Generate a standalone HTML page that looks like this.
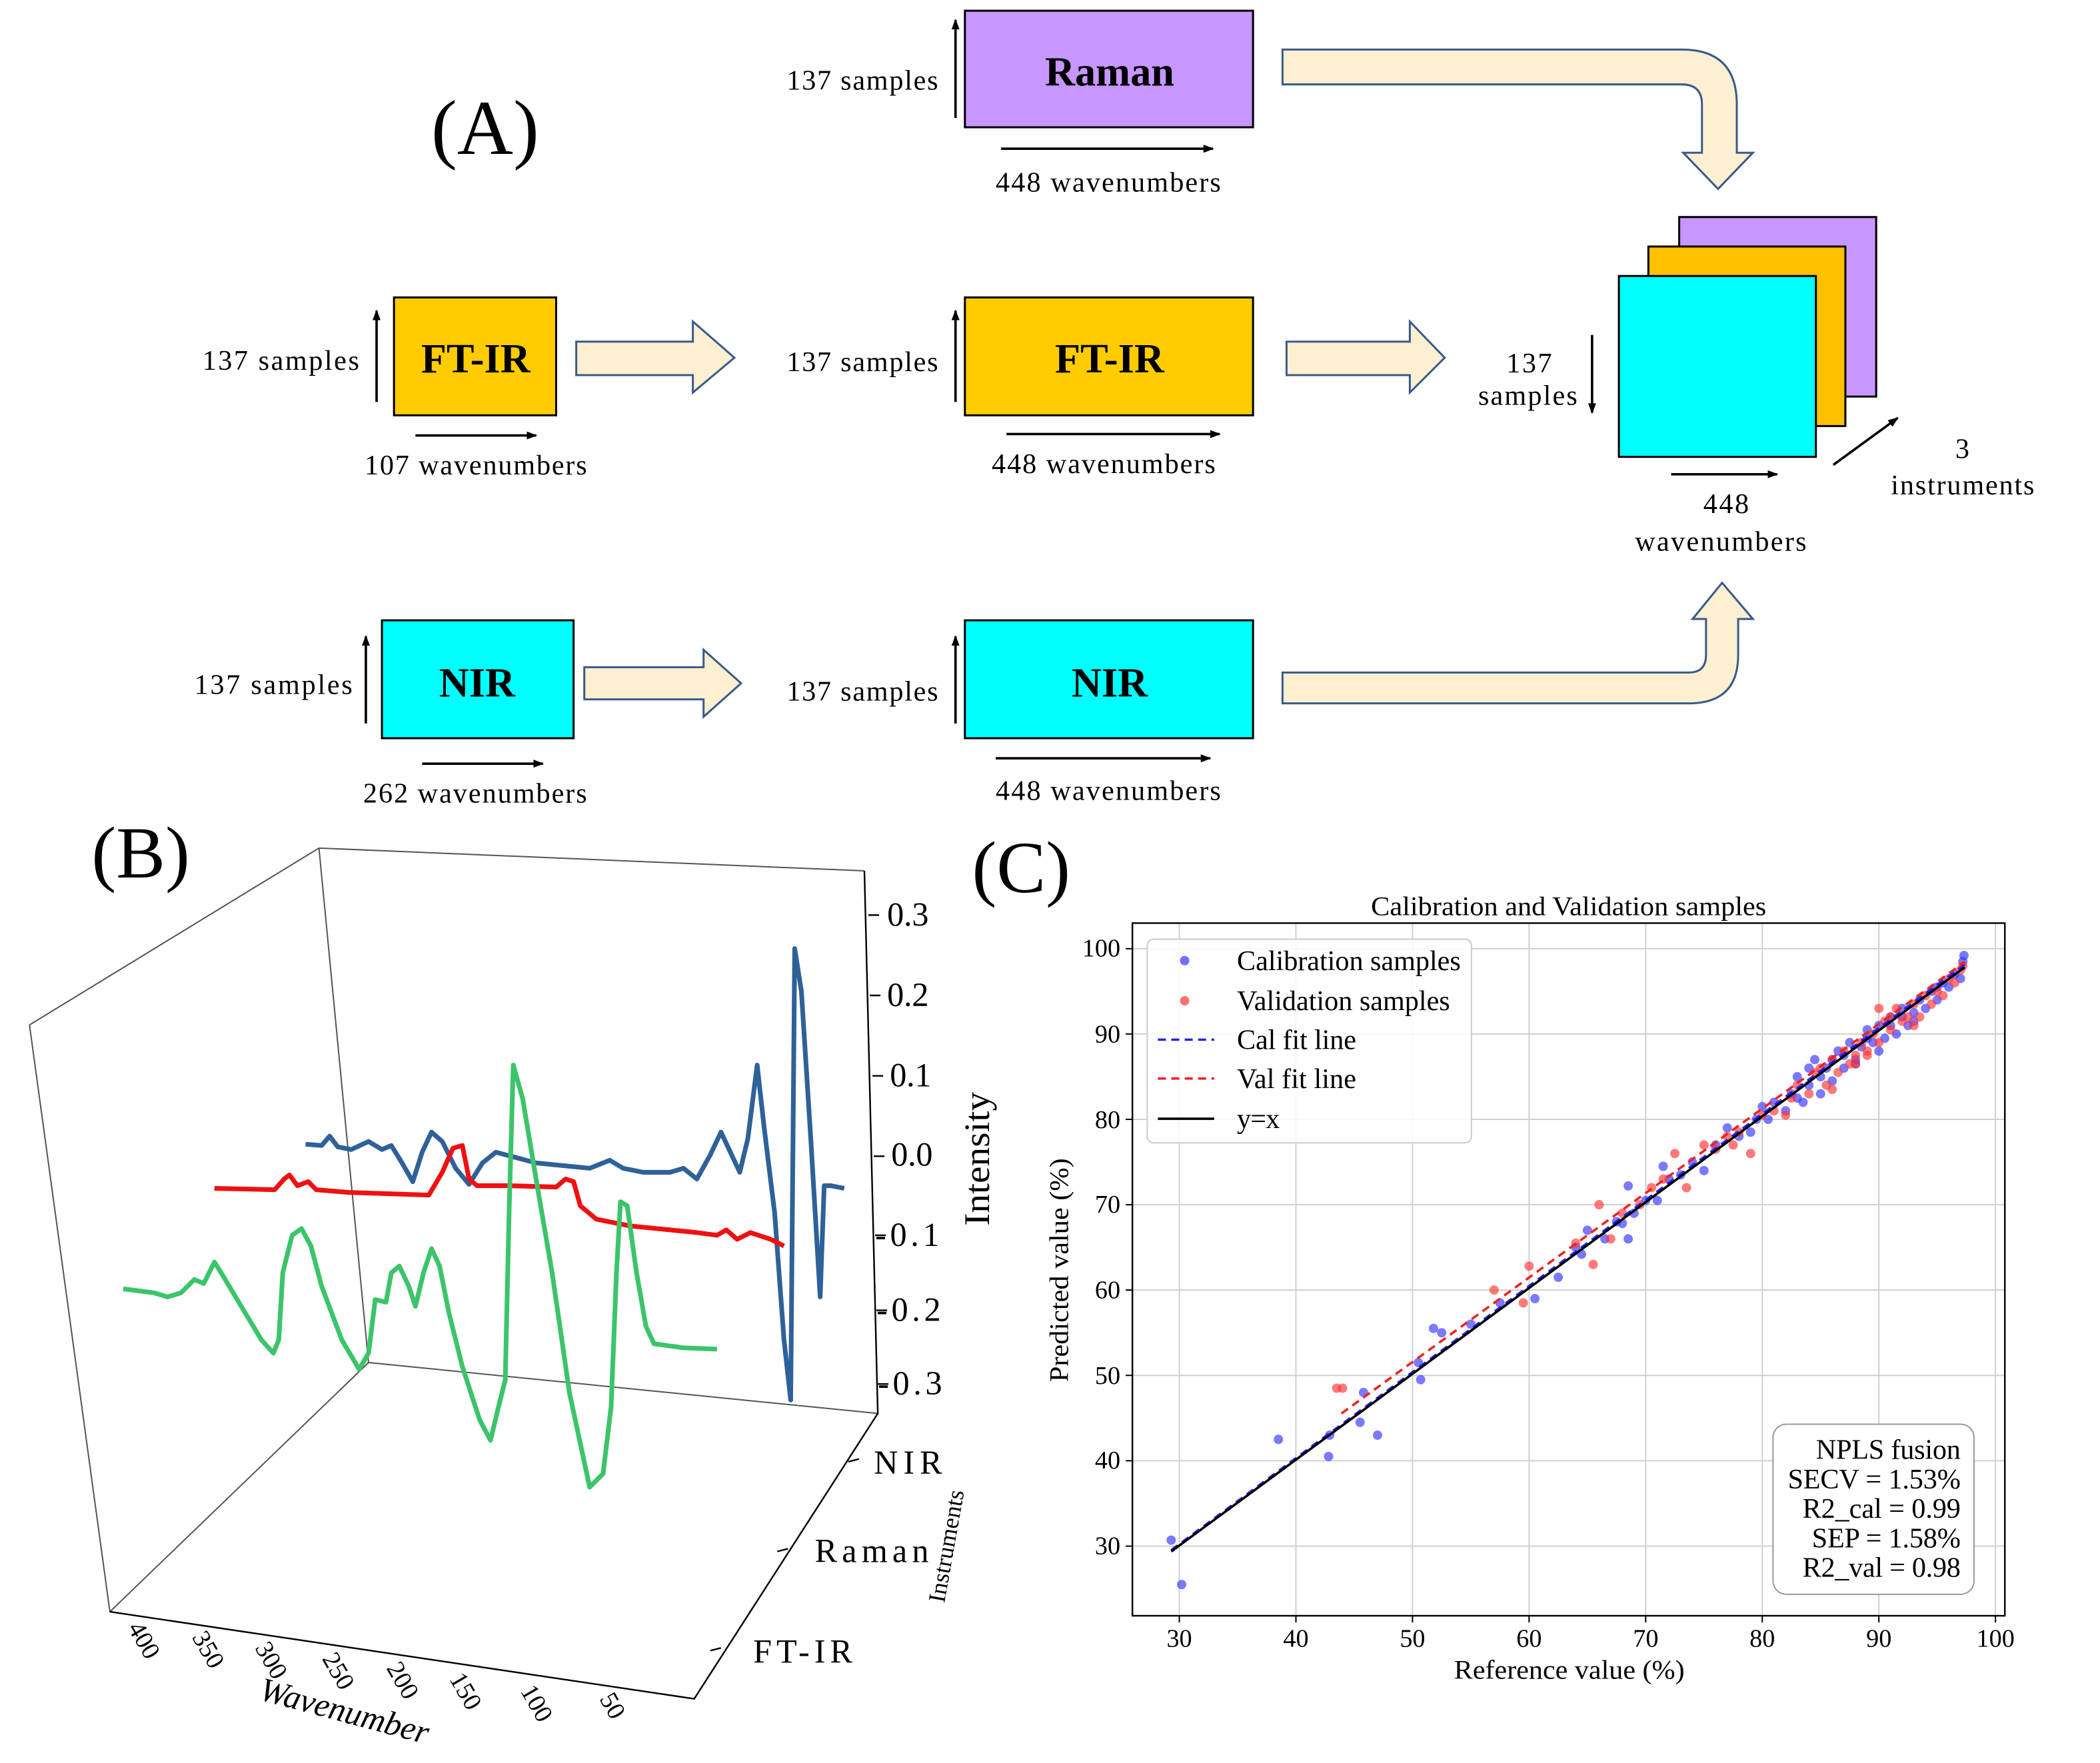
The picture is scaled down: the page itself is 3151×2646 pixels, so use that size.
<!DOCTYPE html>
<html><head><meta charset="utf-8"><style>
html,body{margin:0;padding:0;background:#fff;}
svg{display:block;}
text{font-family:"Liberation Serif",serif;fill:#000;}
</style></head><body>
<svg width="3151" height="2646" viewBox="0 0 1567 1315.9" preserveAspectRatio="none" xmlns="http://www.w3.org/2000/svg">
<defs><marker id="ah" markerWidth="8" markerHeight="8" refX="7" refY="4" orient="auto" markerUnits="userSpaceOnUse"><path d="M0,1 L8,4 L0,7 Z" fill="#000"/></marker></defs>
<rect width="1567" height="1315.9" fill="#fff"/>
<!-- Panel A -->
<text x="362" y="115" font-size="58" text-anchor="middle">(A)</text>
<g stroke="#000" stroke-width="1.5">
<rect x="720" y="8" width="215" height="87" fill="#c896ff"/>
<rect x="294" y="222" width="121" height="88" fill="#ffcc00"/>
<rect x="720" y="222" width="215" height="88" fill="#ffcc00"/>
<rect x="285" y="463" width="143" height="88" fill="#00ffff"/>
<rect x="720" y="463" width="215" height="88" fill="#00ffff"/>
<rect x="1253" y="162" width="147" height="134" fill="#c896ff"/>
<rect x="1230" y="184" width="147" height="134" fill="#ffc000"/>
<rect x="1208" y="206" width="147" height="135" fill="#00ffff"/>
</g>
<g font-weight="bold" font-size="31" text-anchor="middle">
<text x="828" y="64">Raman</text><text x="355" y="278">FT-IR</text><text x="828" y="278">FT-IR</text>
<text x="356" y="520">NIR</text><text x="828" y="520">NIR</text></g>
<g font-size="21" lengthAdjust="spacingAndGlyphs">
<text x="587" y="67" textLength="113">137 samples</text><text x="743" y="143" textLength="168">448 wavenumbers</text>
<text x="151" y="276" textLength="117">137  samples</text><text x="272" y="354" textLength="166">107 wavenumbers</text>
<text x="587" y="277" textLength="113">137 samples</text><text x="740" y="353" textLength="167">448 wavenumbers</text>
<text x="145" y="518" textLength="118">137  samples</text><text x="271" y="599" textLength="167">262 wavenumbers</text>
<text x="587" y="523" textLength="113">137 samples</text><text x="743" y="597" textLength="168">448 wavenumbers</text>
<text x="1124" y="278" textLength="34">137</text><text x="1103" y="302" textLength="74">samples</text>
<text x="1271" y="383" textLength="34">448</text><text x="1220" y="411" textLength="128">wavenumbers</text>
<text x="1459" y="342">3</text><text x="1411" y="369" textLength="107">instruments</text></g>
<g stroke="#000" stroke-width="1.8" marker-end="url(#ah)">
<line x1="713" y1="88" x2="713" y2="15"/><line x1="747" y1="111" x2="905" y2="111"/>
<line x1="281" y1="300" x2="281" y2="232"/><line x1="310" y1="325" x2="400" y2="325"/>
<line x1="713" y1="300" x2="713" y2="232"/><line x1="751" y1="324" x2="910" y2="324"/>
<line x1="273" y1="540" x2="273" y2="475"/><line x1="315" y1="570" x2="405" y2="570"/>
<line x1="713" y1="540" x2="713" y2="475"/><line x1="743" y1="566" x2="903" y2="566"/>
<line x1="1188" y1="250" x2="1188" y2="308"/><line x1="1247" y1="354" x2="1326" y2="354"/>
<line x1="1368" y1="347" x2="1416" y2="312"/></g>
<g fill="#fdf0d0" stroke="#3a5a8a" stroke-width="1.5">
<path d="M430,255 H517 V240 L548,267 L517,293 V280 H430 Z"/>
<path d="M960,255 H1052 V240 L1078,267 L1052,293 V280 H960 Z"/>
<path d="M436,498 H525 V485 L553,510 L525,535 V522 H436 Z"/>
<path d="M957,37 H1255 Q1296,37 1296,78 V114 H1308 L1282,141 L1256,114 H1270 V78 Q1270,63 1255,63 H957 Z"/>
<path d="M957,502 H1260 Q1273,502 1273,489 V462 H1263 L1285,435 L1308,462 H1297 V489 Q1297,525 1260,525 H957 Z"/>
</g>
<!-- Panel B -->
<text x="105" y="655" font-size="55" text-anchor="middle">(B)</text>
<g stroke="#555" stroke-width="1" fill="none">
<path d="M22,765 L238,633 L645,650 M238,633 L275,1017 M22,765 L82,1203 L518,1268 L655,1055 L275,1017 L82,1203"/>
</g>
<g stroke="#000" stroke-width="1.2" fill="none">
<path d="M645,650 L655,1055 M82,1203 L518,1268 L655,1055"/>
<path d="M648,683 h8 M649,743 h8 M651,803 h8 M652,863 h8 M653,922 h8 M654,978 h8 M655,1033 h8"/>
<path d="M633,1091 l8,-2 M580,1158 l8,-2 M530,1232 l8,-2"/>
</g>
<g font-size="25" lengthAdjust="spacingAndGlyphs">
<text x="662" y="691" textLength="31">0.3</text><text x="662" y="751" textLength="31">0.2</text><text x="664" y="811" textLength="31">0.1</text><text x="665" y="870" textLength="31">0.0</text>
<text x="653" y="930" textLength="48">-0.1</text><text x="654" y="986" textLength="48">-0.2</text><text x="655" y="1041" textLength="48">-0.3</text>
<text x="652" y="1100" textLength="51">NIR</text><text x="608" y="1166" textLength="85">Raman</text><text x="562" y="1241" textLength="74">FT-IR</text></g>
<text transform="translate(738,865) rotate(-90)" font-size="27" text-anchor="middle" textLength="100" lengthAdjust="spacingAndGlyphs">Intensity</text>
<text transform="translate(712,1155) rotate(-80)" font-size="18" text-anchor="middle">Instruments</text>
<g font-size="19">
<text transform="translate(95,1215) rotate(60)">400</text><text transform="translate(143,1222) rotate(60)">350</text>
<text transform="translate(190,1230) rotate(60)">300</text><text transform="translate(240,1238) rotate(60)">250</text>
<text transform="translate(288,1245) rotate(60)">200</text><text transform="translate(335,1253) rotate(60)">150</text>
<text transform="translate(388,1262) rotate(60)">100</text><text transform="translate(447,1268) rotate(60)">50</text></g>
<text transform="translate(255,1285) rotate(15)" font-size="25" text-anchor="middle" font-style="italic">Wavenumber</text>
<g fill="none" stroke-width="3.5" stroke-linejoin="round">
<polyline stroke="#2f6199" points="228,854 240,855 246,848 252,856 262,858 275,852 285,858 292,855 300,868 308,882 315,860 322,845 330,852 340,872 350,884 360,868 370,860 385,864 400,868 420,870 440,872 455,866 465,872 480,875 500,875 510,872 520,880 530,862 538,845 545,860 552,875 558,850 565,795 570,840 578,905 585,1000 590,1045 593,708 598,740 605,850 612,968 615,885 620,885 630,887"/>
<polyline stroke="#ee1111" points="160,887 205,888 212,880 216,877 222,885 230,882 236,888 260,890 320,892 330,875 338,857 345,855 350,880 356,885 380,885 415,886 422,880 428,882 433,900 445,910 470,915 500,918 520,920 535,922 542,918 550,925 560,920 575,925 585,930"/>
<polyline stroke="#3cc46a" points="92,962 115,965 125,968 135,965 145,955 152,958 160,942 165,950 180,975 195,1000 204,1010 208,1000 211,950 218,922 225,917 232,930 240,960 255,1000 268,1022 275,1010 280,970 288,972 292,950 298,945 305,960 310,975 316,950 322,932 328,945 335,980 345,1020 358,1060 366,1075 372,1050 377,1030 380,900 383,795 390,820 400,880 412,950 425,1040 440,1110 450,1100 456,1050 460,950 463,897 468,900 475,950 482,990 488,1003 510,1006 535,1007"/>
</g>
<!-- Panel C -->
<text x="762" y="666" font-size="55" text-anchor="middle">(C)</text>
<text x="1023" y="683" font-size="20" textLength="295" lengthAdjust="spacingAndGlyphs">Calibration and Validation samples</text>
<g stroke="#d0d0d0" stroke-width="1">
<path d="M880,689V1206 M967,689V1206 M1054,689V1206 M1141,689V1206 M1228,689V1206 M1315,689V1206 M1402,689V1206 M1489,689V1206"/>
<path d="M845,1154H1496 M845,1090.3H1496 M845,1026.6H1496 M845,962.9H1496 M845,899.2H1496 M845,835.5H1496 M845,771.8H1496 M845,708.1H1496"/>
</g>
<rect x="845" y="689" width="651" height="517" fill="none" stroke="#000" stroke-width="1.2"/>
<g stroke="#000" stroke-width="1">
<path d="M880,1206v5 M967,1206v5 M1054,1206v5 M1141,1206v5 M1228,1206v5 M1315,1206v5 M1402,1206v5 M1489,1206v5"/>
<path d="M840,1154h5 M840,1090.3h5 M840,1026.6h5 M840,962.9h5 M840,899.2h5 M840,835.5h5 M840,771.8h5 M840,708.1h5"/>
</g>
<g font-size="19" text-anchor="middle">
<text x="880" y="1229">30</text><text x="967" y="1229">40</text><text x="1054" y="1229">50</text><text x="1141" y="1229">60</text>
<text x="1228" y="1229">70</text><text x="1315" y="1229">80</text><text x="1402" y="1229">90</text><text x="1489" y="1229">100</text></g>
<g font-size="19" text-anchor="end">
<text x="836" y="1160">30</text><text x="836" y="1096">40</text><text x="836" y="1033">50</text><text x="836" y="969">60</text>
<text x="836" y="905">70</text><text x="836" y="842">80</text><text x="836" y="778">90</text><text x="836" y="714">100</text></g>
<g transform="matrix(8.7,0,0,-6.37,619,1345.1)">
<g fill="#3333ff" fill-opacity="0.65">
<ellipse cx="29.3" cy="30.7" rx="0.4" ry="0.55"/><ellipse cx="30.2" cy="25.5" rx="0.4" ry="0.55"/><ellipse cx="38.5" cy="42.5" rx="0.4" ry="0.55"/><ellipse cx="42.8" cy="40.5" rx="0.4" ry="0.55"/><ellipse cx="42.9" cy="43" rx="0.4" ry="0.55"/><ellipse cx="45.5" cy="44.5" rx="0.4" ry="0.55"/><ellipse cx="45.8" cy="48" rx="0.4" ry="0.55"/><ellipse cx="47" cy="43" rx="0.4" ry="0.55"/><ellipse cx="50.7" cy="49.5" rx="0.4" ry="0.55"/><ellipse cx="50.5" cy="51.5" rx="0.4" ry="0.55"/><ellipse cx="51.8" cy="55.5" rx="0.4" ry="0.55"/><ellipse cx="52.5" cy="55" rx="0.4" ry="0.55"/><ellipse cx="55" cy="56" rx="0.4" ry="0.55"/><ellipse cx="57.5" cy="58.5" rx="0.4" ry="0.55"/><ellipse cx="60.5" cy="59" rx="0.4" ry="0.55"/><ellipse cx="62.5" cy="61.5" rx="0.4" ry="0.55"/><ellipse cx="64" cy="65" rx="0.4" ry="0.55"/><ellipse cx="64.5" cy="64.2" rx="0.4" ry="0.55"/><ellipse cx="65" cy="67" rx="0.4" ry="0.55"/><ellipse cx="66.5" cy="66" rx="0.4" ry="0.55"/><ellipse cx="67.5" cy="68" rx="0.4" ry="0.55"/><ellipse cx="68" cy="67.8" rx="0.4" ry="0.55"/><ellipse cx="68.5" cy="66" rx="0.4" ry="0.55"/><ellipse cx="68.5" cy="72.2" rx="0.4" ry="0.55"/><ellipse cx="69" cy="69" rx="0.4" ry="0.55"/><ellipse cx="70" cy="70.5" rx="0.4" ry="0.55"/><ellipse cx="71" cy="70.5" rx="0.4" ry="0.55"/><ellipse cx="71.5" cy="74.5" rx="0.4" ry="0.55"/><ellipse cx="72" cy="73" rx="0.4" ry="0.55"/><ellipse cx="73" cy="73.5" rx="0.4" ry="0.55"/><ellipse cx="74" cy="75" rx="0.4" ry="0.55"/><ellipse cx="75" cy="74" rx="0.4" ry="0.55"/><ellipse cx="76" cy="77" rx="0.4" ry="0.55"/><ellipse cx="77" cy="79" rx="0.4" ry="0.55"/><ellipse cx="78" cy="78" rx="0.4" ry="0.55"/><ellipse cx="79" cy="78.5" rx="0.4" ry="0.55"/><ellipse cx="80" cy="81.5" rx="0.4" ry="0.55"/><ellipse cx="80.5" cy="80" rx="0.4" ry="0.55"/><ellipse cx="81" cy="82" rx="0.4" ry="0.55"/><ellipse cx="82" cy="81" rx="0.4" ry="0.55"/><ellipse cx="82.5" cy="83" rx="0.4" ry="0.55"/><ellipse cx="83" cy="85" rx="0.4" ry="0.55"/><ellipse cx="83.5" cy="82" rx="0.4" ry="0.55"/><ellipse cx="84" cy="84" rx="0.4" ry="0.55"/><ellipse cx="84.5" cy="87" rx="0.4" ry="0.55"/><ellipse cx="85" cy="85" rx="0.4" ry="0.55"/><ellipse cx="85.5" cy="86" rx="0.4" ry="0.55"/><ellipse cx="86" cy="84.5" rx="0.4" ry="0.55"/><ellipse cx="86.5" cy="88" rx="0.4" ry="0.55"/><ellipse cx="87" cy="86" rx="0.4" ry="0.55"/><ellipse cx="87.5" cy="89" rx="0.4" ry="0.55"/><ellipse cx="88" cy="87" rx="0.4" ry="0.55"/><ellipse cx="88.5" cy="88.5" rx="0.4" ry="0.55"/><ellipse cx="89" cy="90.5" rx="0.4" ry="0.55"/><ellipse cx="89.5" cy="89" rx="0.4" ry="0.55"/><ellipse cx="90" cy="91" rx="0.4" ry="0.55"/><ellipse cx="90.5" cy="89.5" rx="0.4" ry="0.55"/><ellipse cx="91" cy="92" rx="0.4" ry="0.55"/><ellipse cx="91.5" cy="90" rx="0.4" ry="0.55"/><ellipse cx="92" cy="93" rx="0.4" ry="0.55"/><ellipse cx="92.5" cy="91" rx="0.4" ry="0.55"/><ellipse cx="93" cy="92.5" rx="0.4" ry="0.55"/><ellipse cx="93.5" cy="94" rx="0.4" ry="0.55"/><ellipse cx="94" cy="93" rx="0.4" ry="0.55"/><ellipse cx="94.5" cy="95" rx="0.4" ry="0.55"/><ellipse cx="95" cy="94" rx="0.4" ry="0.55"/><ellipse cx="95.5" cy="96" rx="0.4" ry="0.55"/><ellipse cx="96" cy="95.5" rx="0.4" ry="0.55"/><ellipse cx="96.5" cy="97" rx="0.4" ry="0.55"/><ellipse cx="97" cy="96.5" rx="0.4" ry="0.55"/><ellipse cx="97.3" cy="99.2" rx="0.4" ry="0.55"/><ellipse cx="97.2" cy="98.5" rx="0.4" ry="0.55"/><ellipse cx="88" cy="86.5" rx="0.4" ry="0.55"/><ellipse cx="86" cy="87" rx="0.4" ry="0.55"/><ellipse cx="84" cy="86" rx="0.4" ry="0.55"/><ellipse cx="92" cy="92" rx="0.4" ry="0.55"/><ellipse cx="90" cy="88" rx="0.4" ry="0.55"/><ellipse cx="85" cy="83" rx="0.4" ry="0.55"/><ellipse cx="87" cy="87.5" rx="0.4" ry="0.55"/><ellipse cx="89" cy="89.5" rx="0.4" ry="0.55"/><ellipse cx="91" cy="91" rx="0.4" ry="0.55"/><ellipse cx="93" cy="91.5" rx="0.4" ry="0.55"/><ellipse cx="95" cy="95.5" rx="0.4" ry="0.55"/><ellipse cx="83" cy="82.5" rx="0.4" ry="0.55"/><ellipse cx="79.5" cy="80" rx="0.4" ry="0.55"/>
</g>
<g fill="#ff3333" fill-opacity="0.65">
<ellipse cx="43.5" cy="48.5" rx="0.4" ry="0.55"/><ellipse cx="44" cy="48.5" rx="0.4" ry="0.55"/><ellipse cx="57" cy="60" rx="0.4" ry="0.55"/><ellipse cx="59.5" cy="58.5" rx="0.4" ry="0.55"/><ellipse cx="60" cy="62.8" rx="0.4" ry="0.55"/><ellipse cx="64" cy="65.5" rx="0.4" ry="0.55"/><ellipse cx="65.5" cy="63" rx="0.4" ry="0.55"/><ellipse cx="66" cy="70" rx="0.4" ry="0.55"/><ellipse cx="67" cy="66" rx="0.4" ry="0.55"/><ellipse cx="68" cy="69" rx="0.4" ry="0.55"/><ellipse cx="69.5" cy="70" rx="0.4" ry="0.55"/><ellipse cx="70.5" cy="72" rx="0.4" ry="0.55"/><ellipse cx="71.5" cy="73" rx="0.4" ry="0.55"/><ellipse cx="72.5" cy="76" rx="0.4" ry="0.55"/><ellipse cx="73.5" cy="72" rx="0.4" ry="0.55"/><ellipse cx="75" cy="77" rx="0.4" ry="0.55"/><ellipse cx="76" cy="76.5" rx="0.4" ry="0.55"/><ellipse cx="77.5" cy="77" rx="0.4" ry="0.55"/><ellipse cx="78" cy="78.5" rx="0.4" ry="0.55"/><ellipse cx="79" cy="76" rx="0.4" ry="0.55"/><ellipse cx="80" cy="80.5" rx="0.4" ry="0.55"/><ellipse cx="81" cy="81" rx="0.4" ry="0.55"/><ellipse cx="82" cy="80.5" rx="0.4" ry="0.55"/><ellipse cx="82.5" cy="82.5" rx="0.4" ry="0.55"/><ellipse cx="83" cy="84" rx="0.4" ry="0.55"/><ellipse cx="84" cy="83" rx="0.4" ry="0.55"/><ellipse cx="85" cy="86" rx="0.4" ry="0.55"/><ellipse cx="85.5" cy="84" rx="0.4" ry="0.55"/><ellipse cx="86" cy="87" rx="0.4" ry="0.55"/><ellipse cx="86.5" cy="85.5" rx="0.4" ry="0.55"/><ellipse cx="87" cy="88" rx="0.4" ry="0.55"/><ellipse cx="88" cy="86.5" rx="0.4" ry="0.55"/><ellipse cx="88.5" cy="89" rx="0.4" ry="0.55"/><ellipse cx="89" cy="88" rx="0.4" ry="0.55"/><ellipse cx="89.5" cy="90" rx="0.4" ry="0.55"/><ellipse cx="90" cy="89" rx="0.4" ry="0.55"/><ellipse cx="90.5" cy="91.5" rx="0.4" ry="0.55"/><ellipse cx="91" cy="90.5" rx="0.4" ry="0.55"/><ellipse cx="91.5" cy="93" rx="0.4" ry="0.55"/><ellipse cx="92" cy="91.5" rx="0.4" ry="0.55"/><ellipse cx="92.5" cy="92" rx="0.4" ry="0.55"/><ellipse cx="93" cy="93.5" rx="0.4" ry="0.55"/><ellipse cx="93.5" cy="92" rx="0.4" ry="0.55"/><ellipse cx="94" cy="94.5" rx="0.4" ry="0.55"/><ellipse cx="94.5" cy="93.5" rx="0.4" ry="0.55"/><ellipse cx="95" cy="95" rx="0.4" ry="0.55"/><ellipse cx="95.5" cy="94.5" rx="0.4" ry="0.55"/><ellipse cx="96" cy="96.5" rx="0.4" ry="0.55"/><ellipse cx="96.5" cy="96" rx="0.4" ry="0.55"/><ellipse cx="97" cy="97.5" rx="0.4" ry="0.55"/><ellipse cx="97.2" cy="98" rx="0.4" ry="0.55"/><ellipse cx="90" cy="93" rx="0.4" ry="0.55"/><ellipse cx="88" cy="87.5" rx="0.4" ry="0.55"/><ellipse cx="84.5" cy="85.5" rx="0.4" ry="0.55"/><ellipse cx="86" cy="83.5" rx="0.4" ry="0.55"/><ellipse cx="87.5" cy="86.5" rx="0.4" ry="0.55"/><ellipse cx="89" cy="87.5" rx="0.4" ry="0.55"/><ellipse cx="91" cy="92" rx="0.4" ry="0.55"/><ellipse cx="93" cy="91" rx="0.4" ry="0.55"/><ellipse cx="77" cy="78" rx="0.4" ry="0.55"/>
</g>
</g>
<line x1="874" y1="1157" x2="1466" y2="720" stroke="#2222ee" stroke-width="1.8" stroke-dasharray="6,4"/>
<line x1="1001" y1="1055" x2="1466" y2="718" stroke="#ee2222" stroke-width="1.8" stroke-dasharray="6,4"/>
<line x1="874" y1="1158" x2="1466" y2="722" stroke="#000" stroke-width="1.8"/>
<rect x="856" y="701" width="242" height="152" rx="5" fill="#fff" fill-opacity="0.85" stroke="#ccc"/>
<circle cx="884" cy="717" r="3.5" fill="#3333ff" fill-opacity="0.7"/><circle cx="884" cy="747" r="3.5" fill="#ff3333" fill-opacity="0.7"/>
<line x1="864" y1="776" x2="906" y2="776" stroke="#2222ee" stroke-width="1.8" stroke-dasharray="6,4"/>
<line x1="864" y1="805" x2="906" y2="805" stroke="#ee2222" stroke-width="1.8" stroke-dasharray="6,4"/>
<line x1="864" y1="835" x2="906" y2="835" stroke="#000" stroke-width="1.8"/>
<g font-size="21" lengthAdjust="spacingAndGlyphs"><text x="923" y="724" textLength="167">Calibration samples</text><text x="923" y="754" textLength="159">Validation samples</text>
<text x="923" y="783" textLength="89">Cal fit line</text><text x="923" y="812" textLength="89">Val fit line</text><text x="923" y="842" textLength="32">y=x</text></g>
<rect x="1323" y="1063" width="150" height="127" rx="10" fill="#fff" stroke="#999"/>
<g font-size="21" lengthAdjust="spacingAndGlyphs"><text x="1355" y="1089" textLength="108">NPLS fusion</text><text x="1334" y="1111" textLength="129">SECV = 1.53%</text>
<text x="1345" y="1133" textLength="118">R2_cal = 0.99</text><text x="1352" y="1155" textLength="111">SEP = 1.58%</text><text x="1345" y="1177" textLength="118">R2_val = 0.98</text></g>
<text x="1085" y="1253" font-size="20" textLength="172" lengthAdjust="spacingAndGlyphs">Reference value (%)</text>
<text transform="translate(797,948) rotate(-90)" font-size="20" text-anchor="middle" textLength="167" lengthAdjust="spacingAndGlyphs">Predicted value (%)</text>
</svg>
</body></html>
